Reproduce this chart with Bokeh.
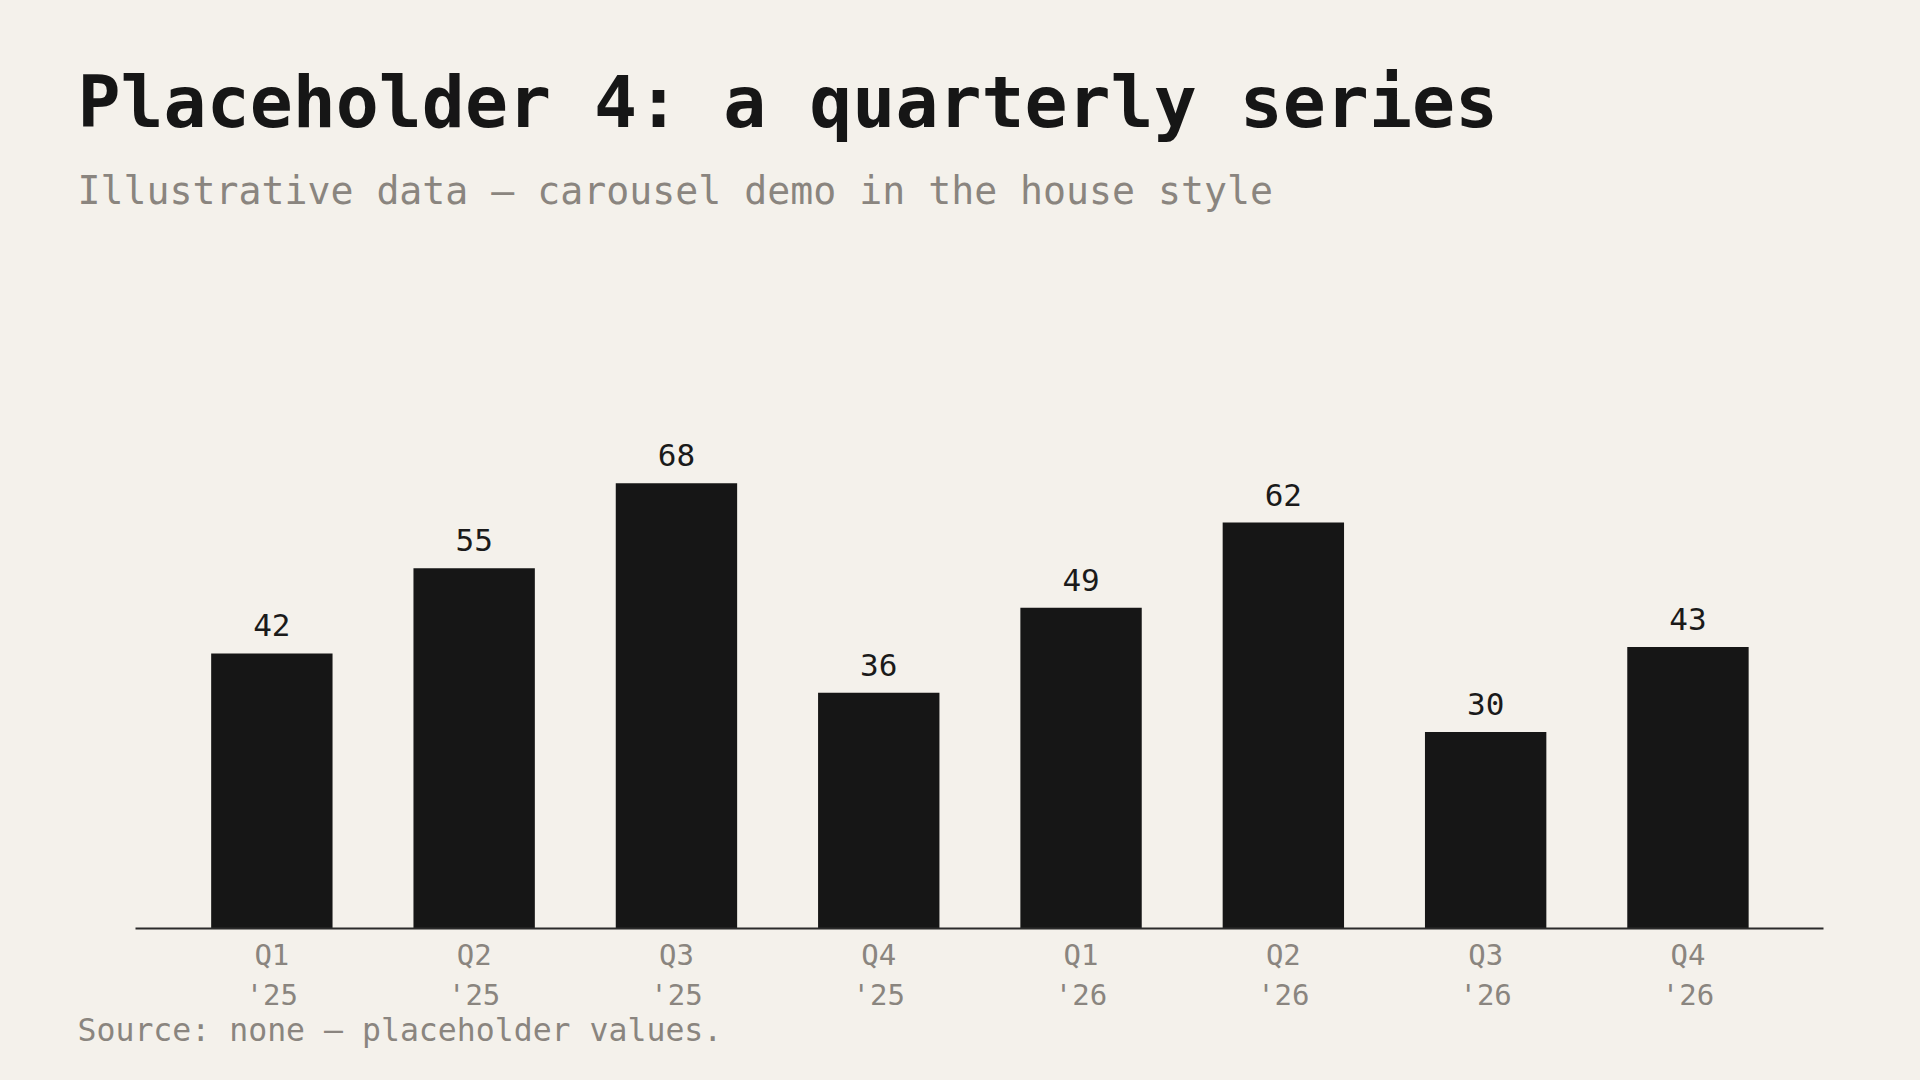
from bokeh.plotting import figure
from bokeh.models import Range1d, FixedTicker, Title, ColumnDataSource
from bokeh.core.properties import value
from bokeh.embed import file_html
from bokeh.resources import INLINE

categories = ["Q1 '25", "Q2 '25", "Q3 '25", "Q4 '25", "Q1 '26", "Q2 '26", "Q3 '26", "Q4 '26"]
tick_labels = ["Q1\n'25", "Q2\n'25", "Q3\n'25", "Q4\n'25", "Q1\n'26", "Q2\n'26", "Q3\n'26", "Q4\n'26"]
values = [42, 55, 68, 36, 49, 62, 30, 43]

TITLE = "Placeholder 4: a quarterly series"
SUBTITLE = "Illustrative data \u2014 carousel demo in the house style"
SOURCE = "Source: none \u2014 placeholder values."

BG = "#f4f1eb"
INK = "#161616"
GREY = "#8a857f"
FONT = "DejaVu Sans Mono"

xs = list(range(len(categories)))
src = ColumnDataSource(dict(x=xs, top=values, lbl=[str(v) for v in values]))

p = figure(width=1904, height=1064, output_backend="svg", toolbar_location=None,
           x_range=Range1d(-0.674, 7.67), y_range=Range1d(0, 106.6),
           min_border_left=135, min_border_right=81, min_border_top=230, min_border_bottom=136)
p.background_fill_color = BG
p.border_fill_color = BG
p.outline_line_color = None
p.grid.visible = False
p.yaxis.visible = False

p.vbar(x="x", top="top", width=0.6, bottom=0, source=src, fill_color=INK, line_color=None)
p.text(x="x", y="top", text="lbl", source=src, text_align="center", text_baseline="alphabetic",
       y_offset=-28, text_font=value(FONT), text_font_size="31px", text_color="#1a1a1a")

ax = p.xaxis[0]
ax.ticker = FixedTicker(ticks=xs)
ax.major_label_overrides = {i: t for i, t in zip(xs, tick_labels)}
ax.major_tick_line_color = None
ax.minor_tick_line_color = None
ax.axis_line_color = "#2b2b2b"
ax.axis_line_width = 2
ax.major_label_text_font = FONT
ax.major_label_text_font_size = "29px"
ax.major_label_text_color = GREY
ax.major_label_standoff = 3

p.add_layout(Title(text=SUBTITLE, align="left", offset=-58, standoff=36,
                   text_font=FONT, text_font_size="38.2px", text_font_style="normal",
                   text_color=GREY), "above")
p.add_layout(Title(text=TITLE, align="left", offset=-58, standoff=10,
                   text_font=FONT, text_font_size="71.5px", text_font_style="bold",
                   text_color=INK), "above")
p.add_layout(Title(text=SOURCE, align="left", offset=-58, standoff=-12,
                   text_font=FONT, text_font_size="31.5px", text_font_style="normal",
                   text_color=GREY), "below")

html = file_html(p, INLINE)
html = html.replace("<head>", "<head><style>body{background:%s;}</style>" % BG, 1)
open("out.html", "w").write(html)
